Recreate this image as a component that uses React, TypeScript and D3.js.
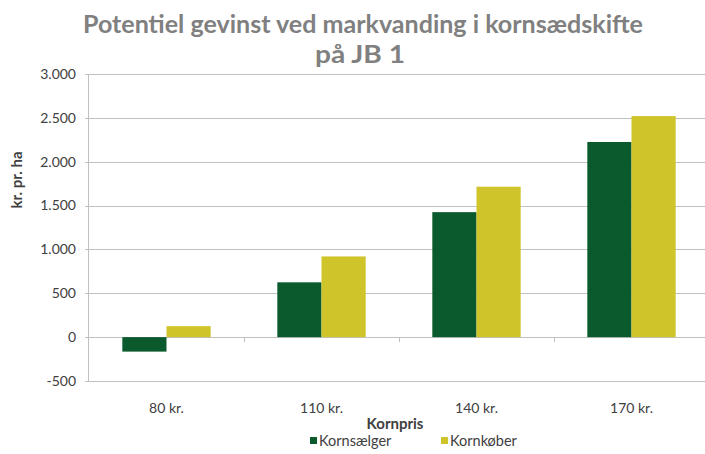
import { useEffect, useRef } from 'react'
import * as d3 from 'd3'

const categories = ['80 kr.', '110 kr.', '140 kr.', '170 kr.']
const seriesNames = ['Kornsælger', 'Kornkøber']
const kornsaelger = [-165, 625, 1425, 2225]
const kornkoeber = [125, 920, 1715, 2520]
const yTicks = [-500, 0, 500, 1000, 1500, 2000, 2500, 3000]
const colors = ['#0b5a2e', '#cfc42a']

const W = 705
const H = 454

export default function App() {
  const svgRef = useRef<SVGSVGElement | null>(null)

  useEffect(() => {
    if (!svgRef.current) return
    const svg = d3.select(svgRef.current)
    svg.selectAll('*').remove()

    const font = 'Lato, "Open Sans", sans-serif'
    const left = 89, right = 709, top = 74, bottom = 381

    const x = d3.scaleBand<string>().domain(categories).range([left, right]).paddingInner(0.43).paddingOuter(0.215)
    const xs = d3.scaleBand<string>().domain(seriesNames).range([0, x.bandwidth()])
    const y = d3.scaleLinear().domain([-500, 3000]).range([bottom, top])

    // Title
    const title = svg.append('text')
      .attr('text-anchor', 'middle')
      .attr('fill', '#808080')
      .attr('font-family', font)
      .attr('font-weight', 'bold')
      .attr('font-size', 25)
    title.append('tspan').attr('x', 363).attr('y', 33)
      .attr('textLength', 560).attr('lengthAdjust', 'spacingAndGlyphs')
      .text('Potentiel gevinst ved markvanding i kornsædskifte')
    title.append('tspan').attr('x', 360).attr('y', 63)
      .attr('textLength', 90).attr('lengthAdjust', 'spacingAndGlyphs')
      .text('på JB 1')

    // Gridlines
    svg.append('g').selectAll('line')
      .data(yTicks)
      .enter().append('line')
      .attr('x1', left - 4).attr('x2', W)
      .attr('y1', d => Math.round(y(d)) + 0.5).attr('y2', d => Math.round(y(d)) + 0.5)
      .attr('stroke', '#c0c0c0')

    // Y axis line
    svg.append('line')
      .attr('x1', left - 0.5).attr('x2', left - 0.5)
      .attr('y1', top).attr('y2', bottom)
      .attr('stroke', '#c0c0c0')

    // Y tick labels
    svg.append('g').selectAll('text')
      .data(yTicks)
      .enter().append('text')
      .attr('x', left - 13)
      .attr('y', d => y(d))
      .attr('dy', '0.35em')
      .attr('text-anchor', 'end')
      .attr('fill', '#404040')
      .attr('font-family', font)
      .attr('font-size', 14)
      .text(d => d3.format(',')(d).replace(/,/g, '.').replace('\u2212', '-'))

    // Category boundary ticks on the zero line
    const bounds = categories.slice(1).map(c => (x(c) as number) - x.step() * x.paddingInner() / 2)
    svg.append('g').selectAll('line')
      .data(bounds)
      .enter().append('line')
      .attr('x1', d => Math.round(d) + 0.5).attr('x2', d => Math.round(d) + 0.5)
      .attr('y1', y(0)).attr('y2', y(0) + 5)
      .attr('stroke', '#c0c0c0')

    // Bars
    const rows = categories.map((c, i) => ({ c, vals: [kornsaelger[i], kornkoeber[i]] }))
    const groups = svg.append('g').selectAll('g')
      .data(rows)
      .enter().append('g')
      .attr('transform', d => `translate(${x(d.c)},0)`)
    groups.selectAll('rect')
      .data(d => d.vals.map((v, j) => ({ v, j })))
      .enter().append('rect')
      .attr('x', d => xs(seriesNames[d.j]) as number)
      .attr('width', xs.bandwidth())
      .attr('y', d => y(Math.max(0, d.v)))
      .attr('height', d => Math.abs(y(d.v) - y(0)))
      .attr('fill', d => colors[d.j])

    // X labels
    svg.append('g').selectAll('text')
      .data(categories)
      .enter().append('text')
      .attr('x', d => (x(d) as number) + x.bandwidth() / 2)
      .attr('y', 413)
      .attr('text-anchor', 'middle')
      .attr('fill', '#404040')
      .attr('font-family', font)
      .attr('font-size', 14)
      .text(d => d)

    // Axis titles
    svg.append('text')
      .attr('x', 395).attr('y', 429)
      .attr('text-anchor', 'middle')
      .attr('fill', '#404040')
      .attr('font-family', font)
      .attr('font-weight', 'bold')
      .attr('font-size', 15)
      .text('Kornpris')

    svg.append('text')
      .attr('transform', 'translate(22,180) rotate(-90)')
      .attr('text-anchor', 'middle')
      .attr('fill', '#404040')
      .attr('font-family', font)
      .attr('font-weight', 'bold')
      .attr('font-size', 15)
      .text('kr. pr. ha')

    // Legend
    const legendX = [310, 441]
    const lg = svg.append('g').selectAll('g')
      .data(seriesNames)
      .enter().append('g')
      .attr('transform', (_, i) => `translate(${legendX[i]},446)`)
    lg.append('rect')
      .attr('x', 0).attr('y', -9)
      .attr('width', 7).attr('height', 7)
      .attr('fill', (_, i) => colors[i])
    lg.append('text')
      .attr('x', 9).attr('y', 0)
      .attr('fill', '#404040')
      .attr('font-family', font)
      .attr('font-size', 14.5)
      .text(d => d)
  }, [])

  return (
    <svg ref={svgRef} width={W} height={H} style={{ position: 'absolute', left: 0, top: 0, background: '#fff' }} />
  )
}
